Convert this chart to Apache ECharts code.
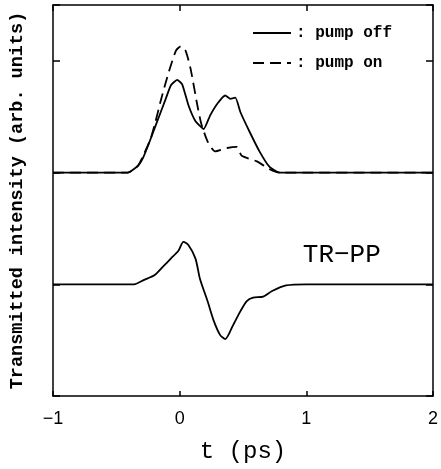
<!DOCTYPE html>
<html><head><meta charset="utf-8">
<script src="https://cdn.jsdelivr.net/npm/echarts@6/dist/echarts.min.js"></script>
<style>html,body{margin:0;padding:0;background:#fff}#c{width:441px;height:469px}</style>
</head><body><div id="c"></div>
<script>
// x-axis tick labels
const xTicks = [-1, 0, 1, 2];
const xTickLabels = ['\u22121', '0', '1', '2'];

// pump off (solid)
const offT = [-1, -0.41, -0.33, -0.29, -0.25, -0.19, -0.11, -0.07, -0.02, 0.02, 0.07, 0.125, 0.19, 0.24, 0.30, 0.36, 0.40, 0.44, 0.48, 0.55, 0.63, 0.71, 0.79, 2];
const offV = [2, 2, 2.06, 2.13, 2.24, 2.42, 2.66, 2.78, 2.83, 2.79, 2.60, 2.46, 2.39, 2.51, 2.62, 2.69, 2.66, 2.67, 2.54, 2.37, 2.19, 2.05, 2.0, 2.0];

// pump on (dashed)
const onT = [-1, -0.41, -0.33, -0.28, -0.23, -0.19, -0.15, -0.094, -0.03, 0.008, 0.047, 0.086, 0.14, 0.17, 0.22, 0.28, 0.375, 0.45, 0.49, 0.61, 0.71, 0.79, 2];
const onV = [2, 2, 2.06, 2.17, 2.30, 2.46, 2.64, 2.87, 3.09, 3.13, 3.09, 2.93, 2.60, 2.44, 2.28, 2.19, 2.22, 2.23, 2.15, 2.10, 2.03, 2.0, 2.0];

// TR-PP difference (solid, lower)
const trT = [-1, -0.36, -0.28, -0.20, -0.13, -0.07, -0.01, 0.03, 0.07, 0.125, 0.16, 0.22, 0.27, 0.32, 0.36, 0.42, 0.48, 0.53, 0.58, 0.66, 0.73, 0.84, 1.0, 2];
const trV = [1, 1.0, 1.04, 1.08, 1.16, 1.23, 1.30, 1.38, 1.35, 1.23, 1.05, 0.85, 0.67, 0.545, 0.51, 0.63, 0.76, 0.85, 0.88, 0.89, 0.94, 0.99, 1.0, 1.0];

const zip = (a, b) => a.map((t, i) => [t, b[i]]);
const mono = '"Liberation Mono", "DejaVu Sans Mono", monospace';

const chart = echarts.init(document.getElementById('c'), null, {renderer: 'canvas'});
const axisLine = {show: true, onZero: false, lineStyle: {color: '#000', width: 1.5}};
chart.setOption({
  animation: false,
  backgroundColor: '#fff',
  grid: {left: 52, right: 4, top: 5, bottom: 71},
  legend: {
    show: true,
    orient: 'vertical', left: 247, top: 20, itemGap: 14, itemWidth: 38, itemHeight: 12,
    formatter: ': {name}',
    itemStyle: {opacity: 0},
    textStyle: {fontFamily: mono, fontSize: 16, fontWeight: 'bold', color: '#000'},
    data: ['pump off', 'pump on']
  },
  xAxis: [{
    type: 'value', min: -1, max: 2, interval: 1, position: 'bottom',
    axisLine, splitLine: {show: false},
    axisTick: {inside: true, length: 5, lineStyle: {color: '#000', width: 1.5}},
    axisLabel: {margin: 14, fontFamily: '"Liberation Sans", Arial, sans-serif', fontSize: 18, color: '#000',
      formatter: v => xTickLabels[xTicks.indexOf(Math.round(v))]},
    name: 't (ps)', nameLocation: 'middle', nameGap: 44,
    nameTextStyle: {fontFamily: mono, fontSize: 24, color: '#000'}
  }, {
    type: 'value', min: -1, max: 2, interval: 1, position: 'top',
    axisLine, splitLine: {show: false},
    axisTick: {inside: true, length: 6, lineStyle: {color: '#000', width: 1.5}},
    axisLabel: {show: false}
  }],
  yAxis: [{
    type: 'value', min: 0, max: 3.5, interval: 1, position: 'left',
    axisLine, splitLine: {show: false},
    axisTick: {inside: true, length: 7, lineStyle: {color: '#000', width: 1.5}},
    axisLabel: {show: false},
    name: 'Transmitted intensity (arb. units)', nameLocation: 'middle', nameGap: 26,
    nameTextStyle: {fontFamily: mono, fontSize: 18.5, fontWeight: 'bold', color: '#000'}
  }, {
    type: 'value', min: 0, max: 3.5, interval: 1, position: 'right',
    axisLine, splitLine: {show: false},
    axisTick: {inside: true, length: 7, lineStyle: {color: '#000', width: 1.5}},
    axisLabel: {show: false}
  }],
  series: [{
    name: 'pump off', type: 'line', data: zip(offT, offV), smooth: 0.15, symbol: 'none',
    lineStyle: {color: '#000', width: 1.8}, itemStyle: {color: '#000'}
  }, {
    name: 'pump on', type: 'line', data: zip(onT, onV), smooth: 0.2, symbol: 'none',
    lineStyle: {color: '#000', width: 1.8, type: [11, 6]}, itemStyle: {color: '#000'}
  }, {
    name: 'TR-PP', type: 'line', data: zip(trT, trV), smooth: 0.25, symbol: 'none',
    lineStyle: {color: '#000', width: 1.8}, itemStyle: {color: '#000'},
    markPoint: {
      symbol: 'rect', symbolSize: 0,
      data: [{coord: [1.28, 1.26], label: {show: true, formatter: 'TR\u2212PP', fontFamily: mono, fontSize: 26, color: '#000'}}]
    }
  }]
});
</script></body></html>
